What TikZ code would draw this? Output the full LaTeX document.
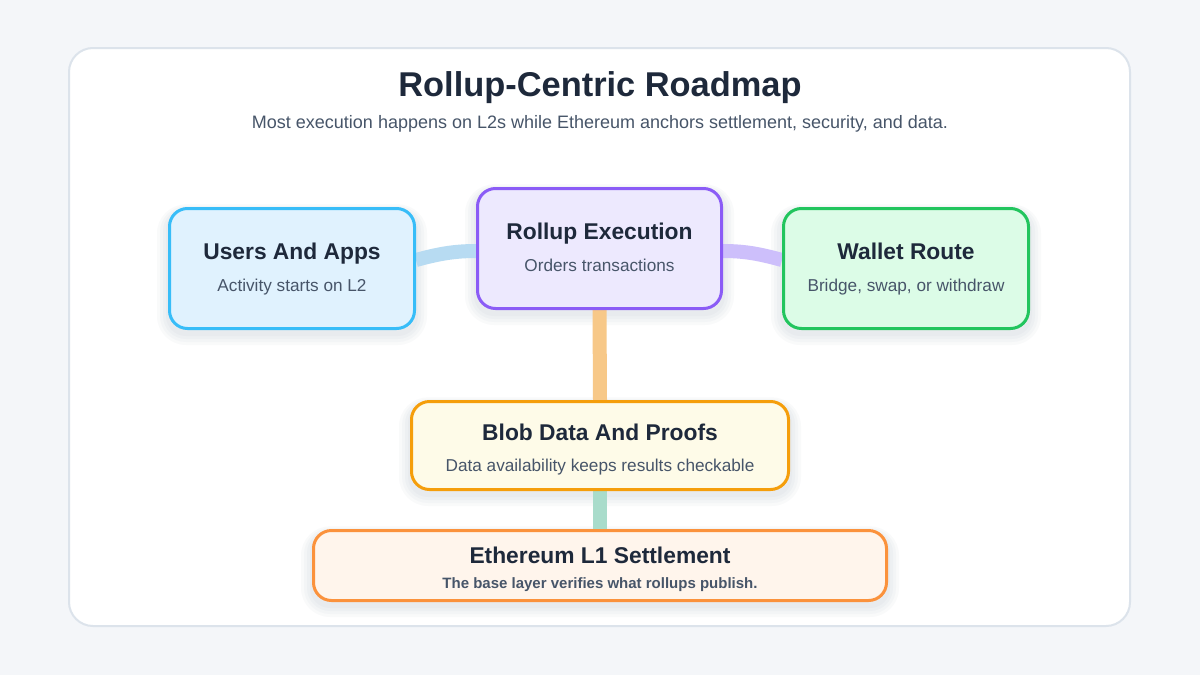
\documentclass[tikz,border=0pt]{standalone}
\usepackage{fontspec}
\setmainfont{Liberation Sans}
\usetikzlibrary{calc}
\definecolor{pagebg}{HTML}{F4F6F9}
\definecolor{panelline}{HTML}{DCE3EB}
\definecolor{ink}{HTML}{1E293B}
\definecolor{subink}{HTML}{475569}
\definecolor{usersfill}{HTML}{E0F2FE}
\definecolor{usersline}{HTML}{38BDF8}
\definecolor{rollfill}{HTML}{EDE9FE}
\definecolor{rollline}{HTML}{8B5CF6}
\definecolor{walletfill}{HTML}{DCFCE7}
\definecolor{walletline}{HTML}{22C55E}
\definecolor{blobfill}{HTML}{FEFBE8}
\definecolor{blobline}{HTML}{F59E0B}
\definecolor{ethfill}{HTML}{FFF5EC}
\definecolor{ethline}{HTML}{FB923C}
\definecolor{bandblue}{HTML}{B7DBF2}
\definecolor{bandviolet}{HTML}{CDBFFB}
\definecolor{bandorange}{HTML}{F7C888}
\definecolor{bandteal}{HTML}{A9DCCB}
\definecolor{shadowc}{HTML}{64748B}
\pgfdeclarelayer{lowest}
\pgfdeclarelayer{shadowlayer}
\pgfdeclarelayer{bands}
\pgfsetlayers{lowest,shadowlayer,bands,main}
\tikzset{
  card/.style={draw, line width=3pt, rounded corners=18pt, inner sep=0pt},
  cardtitle/.style={font=\bfseries\fontsize{22.8}{26}\selectfont, text=ink, inner sep=0pt,
    text height=16pt, text depth=0pt},
  cardsub/.style={font=\fontsize{17.2}{20}\selectfont, text=subink, inner sep=0pt,
    text height=12pt, text depth=0pt},
  band/.style={line width=14pt, line cap=butt},
  softshadow/.style={fill=shadowc, fill opacity=0.035, draw=none},
}
\newcommand\cardshadow[1]{%
  \foreach \g in {2,5,8,11}{%
    \fill[softshadow, rounded corners=18pt+\g pt]
      ($(#1.north west)+(-\g,4-0.6*\g)$) rectangle ($(#1.south east)+(\g,4+\g)$);
  }%
}
\begin{document}
\begin{tikzpicture}[x=1pt,y=-1pt]
\useasboundingbox (0,0) rectangle (1200,675);
\begin{pgfonlayer}{lowest}
\fill[pagebg] (0,0) rectangle (1200,675);
\node[draw=panelline, fill=white, line width=2pt, rounded corners=24pt,
  minimum width=1061pt, minimum height=578pt, inner sep=0pt] (panel) at (599.5,337) {};
\end{pgfonlayer}

\node[font=\bfseries\fontsize{34.4}{38}\selectfont, text=ink, inner sep=0pt,
  text height=24.5pt, text depth=0pt] (title) at (600,84) {Rollup-Centric Roadmap};
\node[font=\fontsize{18}{21}\selectfont, text=subink, inner sep=0pt,
  text height=13pt, text depth=0pt] (subtitle) at (600,122)
  {Most execution happens on L2s while Ethereum anchors settlement, security, and data.};

\node[card, fill=usersfill, draw=usersline, minimum width=245pt, minimum height=120pt] (users) at (292,268.5) {};
\node[cardtitle] (userst) at (292,251) {Users And Apps};
\node[cardsub] (userss) at (292,285) {Activity starts on L2};

\node[card, fill=rollfill, draw=rollline, minimum width=244pt, minimum height=120pt] (rollup) at (599.5,248.5) {};
\node[cardtitle] (rollupt) at (599.5,231) {Rollup Execution};
\node[cardsub] (rollups) at (599.5,265) {Orders transactions};

\node[card, fill=walletfill, draw=walletline, minimum width=245pt, minimum height=120pt] (wallet) at (906,268.5) {};
\node[cardtitle] (wallett) at (906,251) {Wallet Route};
\node[cardsub] (wallets) at (906,285) {Bridge, swap, or withdraw};

\node[card, fill=blobfill, draw=blobline, minimum width=377pt, minimum height=88pt] (blob) at (600,445.5) {};
\node[cardtitle] (blobt) at (600,432) {Blob Data And Proofs};
\node[cardsub] (blobs) at (600,465) {Data availability keeps results checkable};

\node[card, fill=ethfill, draw=ethline, minimum width=573pt, minimum height=70pt] (eth) at (600,565.5) {};
\node[cardtitle] (etht) at (600,555) {Ethereum L1 Settlement};
\node[font=\bfseries\fontsize{15}{18}\selectfont, text=subink, inner sep=0pt,
  text height=11pt, text depth=0pt] (eths) at (600,583) {The base layer verifies what rollups publish.};

\begin{pgfonlayer}{shadowlayer}
\cardshadow{users}
\cardshadow{rollup}
\cardshadow{wallet}
\cardshadow{blob}
\cardshadow{eth}
\end{pgfonlayer}

\begin{pgfonlayer}{bands}
\draw[band, bandblue] ($(users.east)+(0,-8.5)$) .. controls +(22,-6) and +(-22,0) .. ($(rollup.west)+(0,2.5)$);
\draw[band, bandviolet] ($(rollup.east)+(0,2.5)$) .. controls +(22,0) and +(-22,-6) .. ($(wallet.west)+(0,-8.5)$);
\draw[band, bandorange] (rollup.south) -- (blob.north);
\draw[band, bandteal] (blob.south) -- (eth.north);
\end{pgfonlayer}
\end{tikzpicture}
\end{document}
